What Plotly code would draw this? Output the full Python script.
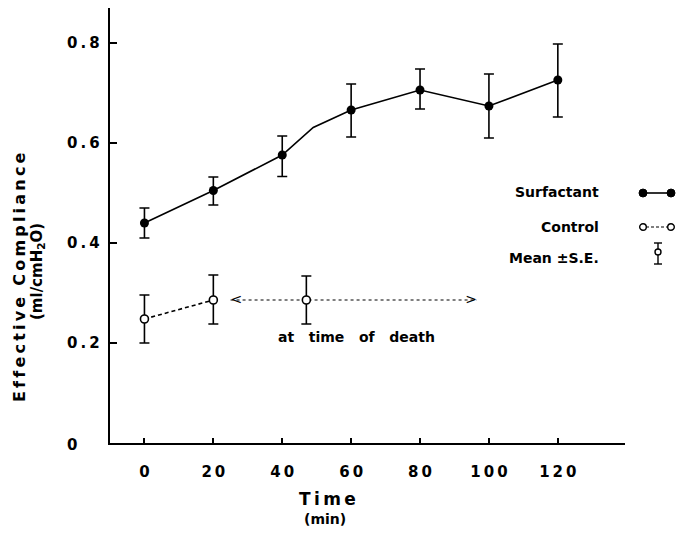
import plotly.graph_objects as go

# ---------------- data ----------------
surf_x = [0, 20, 40, 60, 80, 100, 120]
surf_y = [0.440, 0.505, 0.576, 0.666, 0.706, 0.674, 0.726]
surf_hi = [0.470, 0.532, 0.614, 0.718, 0.748, 0.738, 0.798]
surf_lo = [0.410, 0.476, 0.533, 0.612, 0.668, 0.610, 0.652]
# connecting line as drawn (small bend between 40 and 60 min)
surf_line_x = [0, 20, 40, 49, 60, 80, 100, 120]
surf_line_y = [0.440, 0.505, 0.576, 0.631, 0.666, 0.706, 0.674, 0.726]

ctrl_x = [0, 20, 47]
ctrl_y = [0.248, 0.286, 0.286]
ctrl_hi = [0.296, 0.336, 0.334]
ctrl_lo = [0.200, 0.238, 0.238]
ctrl_line_x = [0, 20]
ctrl_line_y = [0.248, 0.286]

death_x = [25, 96.5]
death_y = [0.286, 0.286]
death_label = "at   time   of   death"
death_label_x = 61.5
death_label_y = 0.212

x_ticks = [0, 20, 40, 60, 80, 100, 120]
x_ticklabels = ["0", "2\u20090", "4\u20090", "6\u20090", "8\u20090", "1\u20090\u20090", "1\u20092\u20090"]
y_ticks = [0, 0.2, 0.4, 0.6, 0.8]
y_ticklabels = ["0", "0\u2009.\u20092", "0\u2009.\u20094", "0\u2009.\u20096", "0\u2009.\u20098"]

legend_labels = ["Surfactant", "Control", "Mean \u00b1S.E."]

FONT = "DejaVu Sans"

# ---------------- layout geometry helpers (pixels -> paper) ----------------
W, H = 676, 535
L, R, T, B = 110, 51, 8, 92
PW, PH = W - L - R, H - T - B


def px(xp):
    return (xp - L) / PW


def py(yp):
    return (H - B - yp) / PH


fig = go.Figure()

# Surfactant line
fig.add_trace(go.Scatter(x=surf_line_x, y=surf_line_y, mode="lines",
                         line=dict(color="black", width=1.6), hoverinfo="skip",
                         showlegend=False))
# Surfactant points with error bars
fig.add_trace(go.Scatter(
    x=surf_x, y=surf_y, mode="markers",
    marker=dict(symbol="circle", size=9, color="black"),
    error_y=dict(type="data", symmetric=False,
                 array=[h - v for h, v in zip(surf_hi, surf_y)],
                 arrayminus=[v - l for l, v in zip(surf_lo, surf_y)],
                 color="black", thickness=1.6, width=5),
    showlegend=False))

# Control dashed line
fig.add_trace(go.Scatter(x=ctrl_line_x, y=ctrl_line_y, mode="lines",
                         line=dict(color="black", width=1.6, dash="4px,3px"),
                         hoverinfo="skip", showlegend=False))
# Time-of-death dotted arrow line
fig.add_trace(go.Scatter(x=death_x, y=death_y, mode="lines",
                         line=dict(color="black", width=1.2, dash="3px,3px"),
                         hoverinfo="skip", showlegend=False))
fig.add_trace(go.Scatter(x=death_x, y=death_y, mode="text",
                         text=["<", ">"], textposition=["middle right", "middle left"],
                         textfont=dict(family=FONT, size=14, color="black"),
                         hoverinfo="skip", showlegend=False))
# Control points with error bars
fig.add_trace(go.Scatter(
    x=ctrl_x, y=ctrl_y, mode="markers",
    marker=dict(symbol="circle", size=8, color="white",
                line=dict(color="black", width=1.6)),
    error_y=dict(type="data", symmetric=False,
                 array=[h - v for h, v in zip(ctrl_hi, ctrl_y)],
                 arrayminus=[v - l for l, v in zip(ctrl_lo, ctrl_y)],
                 color="black", thickness=1.6, width=5),
    showlegend=False))

annotations = []
# death label
annotations.append(dict(x=death_label_x, y=death_label_y, xref="x", yref="y",
                        text=death_label, showarrow=False,
                        font=dict(family=FONT, size=14, color="black", weight="bold")))
# y tick labels (left aligned as in the original)
for v, t in zip(y_ticks, y_ticklabels):
    annotations.append(dict(x=px(65), y=v, xref="paper", yref="y", text=t,
                            showarrow=False, xanchor="left", yanchor="middle",
                            yshift=-2 if v == 0 else 0,
                            font=dict(family=FONT, size=15, color="black", weight="bold")))
# axis titles
annotations.append(dict(x=px(19), y=py(277), xref="paper", yref="paper",
                        text="E\u2009f\u2009f\u2009e\u2009c\u2009t\u2009i\u2009v\u2009e  C\u2009o\u2009m\u2009p\u2009l\u2009i\u2009a\u2009n\u2009c\u2009e",
                        textangle=-90, showarrow=False, xanchor="center", yanchor="middle",
                        font=dict(family=FONT, size=16, color="black", weight="bold")))
annotations.append(dict(x=px(37), y=py(272), xref="paper", yref="paper",
                        text="(ml/cmH<sub>2</sub>O)",
                        textangle=-90, showarrow=False, xanchor="center", yanchor="middle",
                        font=dict(family=FONT, size=15, color="black", weight="bold")))
annotations.append(dict(x=px(327), y=py(499), xref="paper", yref="paper",
                        text="T\u2009i\u2009m\u2009e", showarrow=False,
                        xanchor="center", yanchor="middle",
                        font=dict(family=FONT, size=17, color="black", weight="bold")))
annotations.append(dict(x=px(325), y=py(519), xref="paper", yref="paper",
                        text="(min)", showarrow=False,
                        xanchor="center", yanchor="middle",
                        font=dict(family=FONT, size=14, color="black", weight="bold")))
# legend text
for lab, yp in zip(legend_labels, [192, 227, 258]):
    annotations.append(dict(x=px(601), y=py(yp), xref="paper", yref="paper",
                            text=lab, showarrow=False, xanchor="right", yanchor="middle",
                            font=dict(family=FONT, size=14, color="black", weight="bold")))

shapes = []
# legend key: Surfactant
shapes.append(dict(type="line", xref="paper", yref="paper",
                   x0=px(643), x1=px(671), y0=py(193), y1=py(193),
                   line=dict(color="black", width=1.6)))
for xc in (643, 671):
    shapes.append(dict(type="circle", xref="paper", yref="paper",
                       x0=px(xc - 4), x1=px(xc + 4), y0=py(193 + 4), y1=py(193 - 4),
                       fillcolor="black", line=dict(color="black", width=1)))
# legend key: Control
shapes.append(dict(type="line", xref="paper", yref="paper",
                   x0=px(646), x1=px(668), y0=py(227), y1=py(227),
                   line=dict(color="black", width=1.2, dash="3px,2px")))
for xc in (643, 671):
    shapes.append(dict(type="circle", xref="paper", yref="paper",
                       x0=px(xc - 3.3), x1=px(xc + 3.3), y0=py(227 + 3.3), y1=py(227 - 3.3),
                       fillcolor="white", line=dict(color="black", width=1.4)))
# legend key: Mean +/- S.E.
shapes.append(dict(type="line", xref="paper", yref="paper",
                   x0=px(658), x1=px(658), y0=py(243), y1=py(264),
                   line=dict(color="black", width=1.4)))
for yc in (243, 264):
    shapes.append(dict(type="line", xref="paper", yref="paper",
                       x0=px(654), x1=px(662), y0=py(yc), y1=py(yc),
                       line=dict(color="black", width=1.4)))
shapes.append(dict(type="circle", xref="paper", yref="paper",
                   x0=px(655), x1=px(661), y0=py(255), y1=py(249),
                   fillcolor="white", line=dict(color="black", width=1.4)))

fig.update_layout(
    width=W, height=H,
    margin=dict(l=L, r=R, t=T, b=B),
    paper_bgcolor="white", plot_bgcolor="white",
    showlegend=False,
    annotations=annotations,
    shapes=shapes,
    xaxis=dict(range=[-10, 139.5], tickvals=x_ticks, ticktext=x_ticklabels,
               ticks="inside", ticklen=5, tickwidth=1.5, tickcolor="black",
               showline=True, linecolor="black", linewidth=2,
               showgrid=False, zeroline=False, ticklabelstandoff=14,
               tickfont=dict(family=FONT, size=15, color="black", weight="bold")),
    yaxis=dict(range=[0, 0.87], tickvals=y_ticks, showticklabels=False,
               ticks="inside", ticklen=7, tickwidth=1.5, tickcolor="black",
               showline=True, linecolor="black", linewidth=2,
               showgrid=False, zeroline=False),
)

fig.write_html("out.html")
